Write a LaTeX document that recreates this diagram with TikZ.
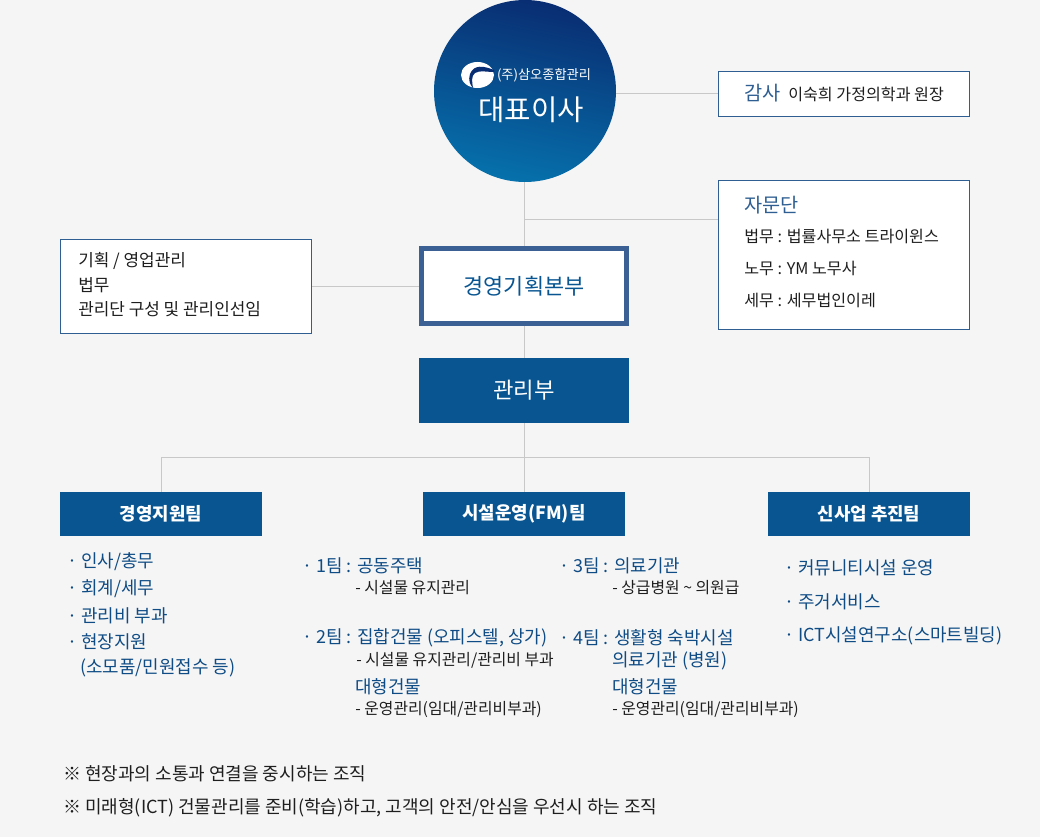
\documentclass[tikz,border=0pt]{standalone}
\usepackage{fontspec}
\setmainfont{Noto Sans CJK KR}
\definecolor{pagebg}{HTML}{F5F5F5}
\definecolor{linegray}{HTML}{C8C8C8}
\definecolor{mainblue}{HTML}{085592}
\definecolor{frameblue}{HTML}{3A6094}
\definecolor{thinblue}{HTML}{2F5F92}
\definecolor{inkblue}{HTML}{0F4C85}
\definecolor{headblue}{HTML}{2F5F92}
\definecolor{inkdark}{HTML}{1E1E1E}
\definecolor{ceotop}{HTML}{092D72}
\definecolor{ceobottom}{HTML}{0671AC}
\tikzset{
	conn/.style={draw=linegray,line width=0.75pt},
	whitebox/.style={draw=thinblue,fill=white,line width=0.75pt,minimum width=188.25pt,inner sep=0pt},
	solidbox/.style={fill=mainblue,text=white,minimum width=151.5pt,minimum height=33pt,inner sep=0pt,font=\fontsize{13.4}{12}\selectfont\bfseries},
	bluetxt/.style={anchor=west,inner sep=0pt,text=inkblue,font=\fontsize{13.45}{12}\selectfont},
	subtxt/.style={anchor=west,inner sep=0pt,text=inkdark,font=\fontsize{11.9}{12}\selectfont},
	boxtxt/.style={anchor=west,inner sep=0pt,text=inkdark,font=\fontsize{12.1}{12}\selectfont},
	headtxt/.style={anchor=west,inner sep=0pt,text=headblue,font=\fontsize{14.8}{12}\selectfont},
}
\begin{document}
\begin{tikzpicture}[x=0.75pt,y=-0.75pt]
\useasboundingbox[fill=pagebg] (0,0) rectangle (1040,837);
% top of the chart
\node[circle,minimum size=136.5pt,inner sep=0pt,top color=ceotop,bottom color=ceobottom,shading angle=-12] (ceo) at (525,91) {};
\fill[white] (477.5,75) ellipse (16.5 and 13);
\fill[ceotop] (494,70) .. controls (484,66) and (474,64) .. (470,74) .. controls (468,80) and (470,85) .. (473,88) .. controls (472,82) and (471,76) .. (475,73) .. controls (480,70) and (486,72) .. (494,72) -- cycle;
\node[inner sep=0pt,text=white,font=\fontsize{9.9}{12}\selectfont] (ceoco) at (544,75) {(주)삼오종합관리};
\node[inner sep=0pt,text=white,font=\fontsize{21.5}{12}\selectfont] (ceoname) at (531,110) {대표이사};
\node[whitebox,minimum height=33.75pt] (audit) at (844,94) {};
\node[whitebox,minimum height=111.75pt] (advice) at (844,255) {};
\node[whitebox,minimum height=70.5pt] (memo) at (186,286.5) {};
\node[draw=frameblue,fill=white,line width=3.75pt,minimum width=153.75pt,minimum height=56.25pt,inner sep=0pt,text=mainblue,font=\fontsize{16.4}{12}\selectfont] (plan) at (524,286) {경영기획본부};
\node[solidbox,minimum width=157.5pt,minimum height=48.75pt,font=\fontsize{16.7}{12}\selectfont] (mgmt) at (524,390.5) {관리부};
\foreach \name/\point/\txt in {
	team1/{161,514}/경영지원팀,
	team2/{524,514}/시설운영(FM)팀,
	team3/{869,514}/신사업 추진팀}
	\node[solidbox] (\name) at (\point) {\txt};
\coordinate (tap) at (524.5,219.5);
\coordinate (bus) at (524.5,458);
\draw[conn] (ceo.south -| tap) -- (tap);
\draw[conn] (tap) -- (plan.north -| tap);
\draw[conn] (tap) -- (tap -| advice.west);
\draw[conn] (ceo.east |- audit) -- (audit.west);
\draw[conn] (memo.east) -- (plan.west |- memo.east);
\draw[conn] (plan.south -| tap) -- (mgmt.north -| tap);
\draw[conn] (mgmt.south -| bus) -- (bus);
\draw[conn] (bus) -- (team2.north -| bus);
\draw[conn] (team1.north) |- (bus);
\draw[conn] (team3.north) |- (bus);
% box texts
\node[headtxt] (audithead) at (744,93) {감사};
\node[boxtxt] (audittxt) at (788,94) {이숙희 가정의학과 원장};
\node[headtxt] (advhead) at (744,205) {자문단};
\foreach \name/\point/\txt in {
	adv1/{744,236}/{법무 : 법률사무소 트라이윈스},
	adv2/{744,268}/{노무 : YM 노무사},
	adv3/{744,300}/{세무 : 세무법인이레}}
	\node[boxtxt] (\name) at (\point) {\txt};
\foreach \name/\point/\txt in {
	memo1/{78,261}/{기획 / 영업관리},
	memo2/{78,285}/{법무},
	memo3/{78,309}/{관리단 구성 및 관리인선임}}
	\node[boxtxt,font=\fontsize{12.7}{12}\selectfont] (\name) at (\point) {\txt};
% team lists
\foreach \name/\point/\txt in {
	a1/{67,562}/{· 인사/총무},
	a2/{67,589}/{· 회계/세무},
	a3/{67,616}/{· 관리비 부과},
	a4/{67,642}/{· 현장지원},
	a5/{80,668}/{(소모품/민원접수 등)},
	b1/{302,566}/{· 1팀 : 공동주택},
	b2/{302,638}/{· 2팀 : 집합건물 (오피스텔, 상가)},
	b3/{355,687}/{대형건물},
	c1/{559,566}/{· 3팀 : 의료기관},
	c2/{559,638}/{· 4팀 : 생활형 숙박시설},
	c3/{612,661}/{의료기관 (병원)},
	c4/{612,687}/{대형건물},
	d1/{784,568}/{· 커뮤니티시설 운영},
	d2/{784,602}/{· 주거서비스},
	d3/{784,636}/{· ICT시설연구소(스마트빌딩)}}
	\node[bluetxt] (\name) at (\point) {\txt};
\foreach \name/\point/\txt in {
	s1/{355,588}/{- 시설물 유지관리},
	s2/{356,660}/{- 시설물 유지관리/관리비 부과},
	s3/{355,709}/{- 운영관리(임대/관리비부과)},
	s4/{612,588}/{- 상급병원 \textasciitilde{} 의원급},
	s5/{612,709}/{- 운영관리(임대/관리비부과)}}
	\node[subtxt] (\name) at (\point) {\txt};
\node[boxtxt,font=\fontsize{13.5}{12}\selectfont] (note1) at (63,774) {※ 현장과의 소통과 연결을 중시하는 조직};
\node[boxtxt,font=\fontsize{13.5}{12}\selectfont] (note2) at (63,808) {※ 미래형(ICT) 건물관리를 준비(학습)하고, 고객의 안전/안심을 우선시 하는 조직};
\end{tikzpicture}
\end{document}
